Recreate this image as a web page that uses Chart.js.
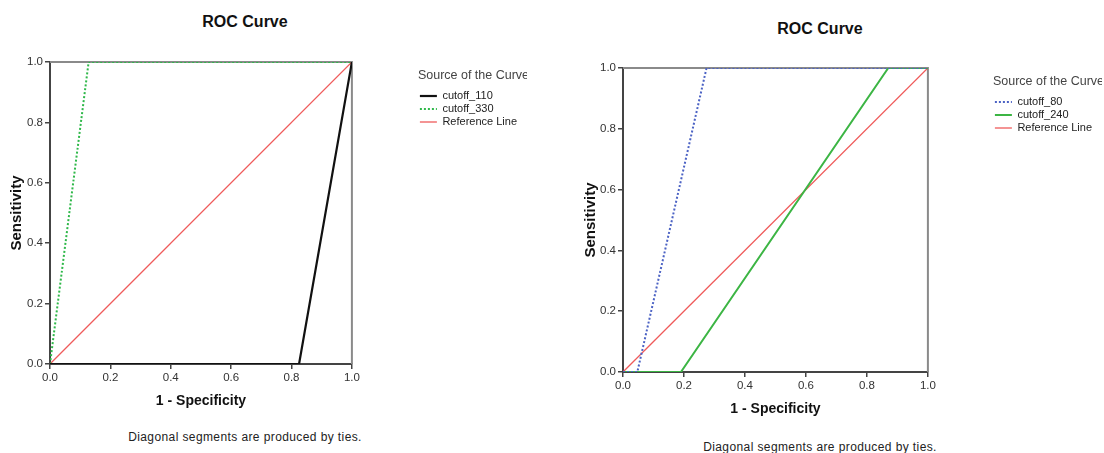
<!DOCTYPE html>
<html>
<head>
<meta charset="utf-8">
<script src="https://cdn.jsdelivr.net/npm/chart.js@4/dist/chart.umd.min.js"></script>
<style>
  body { margin: 0; background: #fff; width: 1104px; height: 453px; position: relative; overflow: hidden; font-family: 'Liberation Sans', Arial, sans-serif; }
  .box { position: absolute; top: 0; height: 420px; }
  .ttl { position: absolute; width: 200px; text-align: center; font-weight: bold; font-size: 16px; line-height: 20px; color: #111; }
  .note { position: absolute; width: 320px; text-align: center; font-size: 12px; letter-spacing: 0.4px; line-height: 16px; color: #222; }
</style>
</head>
<body>
<div class="ttl" style="left:145px; top:12px;">ROC Curve</div>
<div class="ttl" style="left:720px; top:19px;">ROC Curve</div>
<div class="box" style="left:0; width:545px;"><canvas id="rocLeft"></canvas></div>
<div class="box" style="left:560px; width:544px;"><canvas id="rocRight"></canvas></div>
<div class="note" style="left:85px; top:429px;">Diagonal segments are produced by ties.</div>
<div class="note" style="left:660px; top:439px;">Diagonal segments are produced by ties.</div>
<script>
// axis ticks
const tickValues = [0, 0.2, 0.4, 0.6, 0.8, 1.0];

// left chart
const leftNames = ['cutoff_110', 'cutoff_330', 'Reference Line'];
const fpr110 = [0, 0.825, 1];
const tpr110 = [0, 0, 1];
const fpr330 = [0, 0.128, 1];
const tpr330 = [0, 1, 1];

// right chart
const rightNames = ['cutoff_80', 'cutoff_240', 'Reference Line'];
const fpr80 = [0, 0.047, 0.274, 1];
const tpr80 = [0, 0, 1, 1];
const fpr240 = [0, 0.19, 0.87, 1];
const tpr240 = [0, 0, 1, 1];

// diagonal reference
const refX = [0, 1];
const refY = [0, 1];

const FONT = "'Liberation Sans', Arial, sans-serif";

function pts(xs, ys) {
  return xs.map((x, i) => ({ x: x, y: ys[i] }));
}

// top + right border of the plot box
const framePlugin = {
  id: 'frame',
  beforeDatasetsDraw(chart) {
    const a = chart.chartArea, ctx = chart.ctx;
    ctx.save();
    ctx.strokeStyle = '#8a8a8a';
    ctx.lineWidth = 2;
    ctx.beginPath();
    ctx.moveTo(a.left, a.top);
    ctx.lineTo(a.right, a.top);
    ctx.lineTo(a.right, a.bottom);
    ctx.stroke();
    ctx.restore();
  }
};

// keep the dash pattern in the legend samples
function legendLabels(chart) {
  const items = Chart.defaults.plugins.legend.labels.generateLabels(chart);
  items.forEach(it => { it.lineDash = chart.data.datasets[it.datasetIndex].borderDash; });
  return items;
}

function makeRoc(id, datasets, cfg) {
  const axisBase = {
    type: 'linear',
    min: 0,
    max: 1,
    afterBuildTicks: s => { s.ticks = tickValues.map(v => ({ value: v })); },
    ticks: { color: '#333', font: { family: FONT, size: 11.5 }, padding: 2, callback: v => v.toFixed(1), maxRotation: 0 },
    grid: { drawOnChartArea: false, drawTicks: true, tickLength: 5, color: '#444', lineWidth: 1.5 },
    border: { display: true, color: '#444', width: 2 }
  };
  return new Chart(document.getElementById(id), {
    type: 'scatter',
    data: { datasets: datasets },
    options: {
      responsive: true,
      maintainAspectRatio: false,
      animation: false,
      layout: { padding: { top: cfg.top, right: cfg.padRight, left: 0, bottom: 0 } },
      elements: { point: { radius: 0, hoverRadius: 0 } },
      scales: {
        x: Object.assign({}, axisBase, {
          position: 'bottom',
          afterFit: s => { s.height = cfg.xHeight; },
          title: { display: true, text: '1 - Specificity', color: '#111', font: { family: FONT, size: 14, weight: 'bold' }, padding: { top: 0, bottom: cfg.xTitlePad } }
        }),
        y: Object.assign({}, axisBase, {
          position: 'left',
          afterFit: s => { s.width = cfg.yWidth; },
          title: { display: true, text: 'Sensitivity', color: '#111', font: { family: FONT, size: 15, weight: 'bold' }, padding: { top: cfg.yTitlePad, bottom: 0 } }
        }),
        gap: {
          type: 'linear',
          position: 'right',
          display: true,
          ticks: { display: false },
          grid: { display: false },
          border: { display: false },
          afterFit: s => { s.width = cfg.gap; }
        }
      },
      plugins: {
        tooltip: { enabled: false },
        legend: {
          position: 'right',
          align: 'start',
          maxWidth: 200,
          title: { display: true, text: 'Source of the Curve', position: 'start', color: '#444', font: { family: FONT, size: 12.5 }, padding: { top: 7, bottom: 4.5 } },
          labels: {
            usePointStyle: true,
            pointStyle: 'line',
            pointStyleWidth: 17,
            padding: 2,
            color: '#222',
            font: { family: FONT, size: 11 },
            generateLabels: legendLabels
          }
        }
      }
    },
    plugins: [framePlugin]
  });
}

const line = (label, xs, ys, color, width, dash) => ({
  label: label,
  data: pts(xs, ys),
  showLine: true,
  borderColor: color,
  backgroundColor: color,
  borderWidth: width,
  borderDash: dash || [],
  pointRadius: 0
});

makeRoc('rocLeft', [
  line(leftNames[0], fpr110, tpr110, '#111111', 2.2),
  line(leftNames[1], fpr330, tpr330, '#2fb84a', 2, [2, 2]),
  line(leftNames[2], refX, refY, '#ef5a5a', 1.3)
], { top: 62, padRight: 18, xHeight: 56, yWidth: 50, gap: 66, xTitlePad: 10.6, yTitlePad: 8 });

makeRoc('rocRight', [
  line(rightNames[0], fpr80, tpr80, '#4b62c4', 2, [2, 2]),
  line(rightNames[1], fpr240, tpr240, '#3cb544', 2),
  line(rightNames[2], refX, refY, '#ef5a5a', 1.3)
], { top: 68, padRight: 2, xHeight: 48, yWidth: 63, gap: 65, xTitlePad: 2.6, yTitlePad: 22 });
</script>
</body>
</html>
